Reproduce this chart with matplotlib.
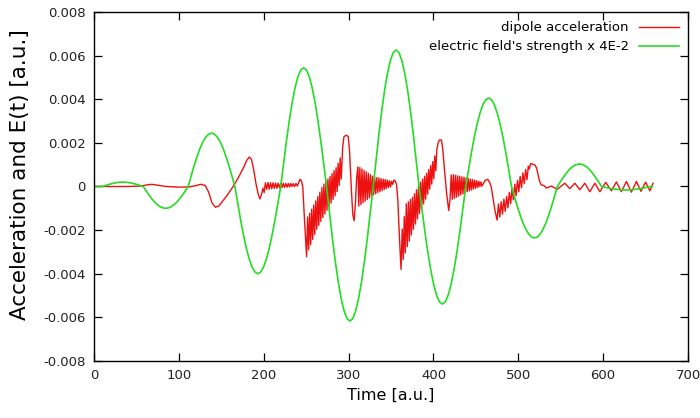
import numpy as np
import matplotlib
matplotlib.use("Agg")
import matplotlib.pyplot as plt

# values are in units of 1e-4 a.u.
SCALE = 1e-4

# electric field's strength x 4E-2, read off the picture lobe by lobe
# (zero crossings in field_edges, 16 samples per lobe)
field_edges = [10, 58, 111, 166, 220, 274, 329, 383, 438, 492, 546, 598, 656]
field_lobes = [
    [0, 0.39, 0.77, 1.11, 1.41, 1.66, 1.85, 1.96, 2.0, 1.96, 1.85, 1.66, 1.41, 1.11, 0.77, 0.39],
    [0, -1.95, -3.83, -5.56, -7.07, -8.31, -9.24, -9.81, -10, -9.81, -9.24, -8.31, -7.07, -5.56, -3.83, -1.95],
    [0, 4.8, 9.4, 13.6, 17.3, 20.4, 22.6, 24.0, 24.5, 24.0, 22.6, 20.4, 17.3, 13.6, 9.4, 4.8],
    [0, -7.8, -15.3, -22.2, -28.3, -33.2, -37.0, -39.2, -40, -39.2, -37.0, -33.2, -28.3, -22.2, -15.3, -7.8],
    [0, 10.6, 20.8, 30.2, 38.5, 45.2, 50.3, 53.4, 54.4, 53.4, 50.3, 45.2, 38.5, 30.2, 20.8, 10.6],
    [0, -12.0, -23.6, -34.3, -43.6, -51.3, -57.0, -60.5, -61.7, -60.5, -57.0, -51.3, -43.6, -34.3, -23.6, -12.0],
    [0, 12.2, 24.0, 34.8, 44.3, 52.0, 57.8, 61.4, 62.6, 61.4, 57.8, 52.0, 44.3, 34.8, 24.0, 12.2],
    [0, -10.5, -20.6, -30.0, -38.1, -44.8, -49.8, -52.9, -53.9, -52.9, -49.8, -44.8, -38.1, -30.0, -20.6, -10.5],
    [0, 7.9, 15.5, 22.6, 28.7, 33.7, 37.5, 39.8, 40.6, 39.8, 37.5, 33.7, 28.7, 22.6, 15.5, 7.9],
    [0, -4.6, -9.0, -13.1, -16.7, -19.6, -21.8, -23.2, -23.6, -23.2, -21.8, -19.6, -16.7, -13.1, -9.0, -4.6],
    [0, 2.0, 3.9, 5.7, 7.3, 8.6, 9.5, 10.1, 10.3, 10.1, 9.5, 8.6, 7.3, 5.7, 3.9, 2.0],
    [0, -0.3, -0.6, -0.9, -1.1, -1.3, -1.5, -1.6, -1.6, -1.6, -1.5, -1.3, -1.1, -0.9, -0.6, -0.3],
]
field_head = ([0], [0])
field_tail = ([656, 658], [0, 0])

# dipole acceleration, piece by piece
# smooth parts: explicit times
dip_a_t = [0, 20, 40, 55, 62, 68, 75, 85, 100, 112, 120, 126, 131, 135, 139,
           143, 147, 151, 157, 164, 170, 176, 180, 183, 185.5, 188, 191,
           193.5, 195.5, 197.5, 199, 200.5]
dip_a_v = [0, 0, 0, 0.2, 0.7, 1.0, 0.6, 0, -0.3, -0.2, 0.4, 1.0, 0.5, -2.5,
           -7.5, -9.5, -9, -7, -4, 0, 4, 8.5, 12, 13.5, 12.5, 8, 1, -3.5,
           -5.7, -3.5, -0.8, -2.8]
# ripples 202..241
dip_b_v = [1.7, -1.3, 1.8, -1.2, 1.7, -1.0, 1.7, -0.9, 1.6, -0.8, 1.6, -0.6,
           1.5, -0.5, 1.5, -0.4, 1.4, -0.3, 1.4, -0.2, 1.4, 0.0, 1.3, 0.0,
           1.4, 0.2, 1.5]
dip_c_t = [242.6, 244.5, 246, 248, 250.5]
dip_c_v = [3.3, 2.5, 0, -15, -32.2]
# dense band 251.7..291.3
dip_d_v = [-14, -29, -12.3, -26.7, -10.4, -24.3, -8.5, -21.9, -6.6, -19.6,
           -4.6, -17.8, -2.6, -16, -0.5, -14.2, 1.1, -12.6, 2.3, -10.9, 3.4,
           -9.2, 4.6, -7.6, 5.9, -6, 7.3, -4.3, 8.6, -2.4, 10.7, 0.5, 13.1,
           3.4]
dip_e_t = [293, 294.5, 297, 299.5, 301, 302, 303.5, 305, 306.5, 308, 309.5,
           311]
dip_e_v = [18, 22.8, 23.5, 23, 17, 9, -3, -13, -15.7, -8, 4, 9]
# decaying band 312..350.75
dip_f_v = [-9, 8.7, -8.25, 8.0, -7.5, 7.3, -6.75, 6.7, -6, 6.0, -5.25, 5.4,
           -4.5, 4.7, -3.8, 4.3, -3.3, 4.1, -2.8, 3.9, -2.35, 3.6, -1.9, 3.4,
           -1.4, 3.2, -0.9, 2.9, -0.5, 2.6, -0.2, 2.4]
dip_g_t = [352, 353.5, 355, 356.5, 358, 360, 361.8]
dip_g_v = [1.0, 3.0, 2.5, 1.0, -6, -24, -38]
# dense band 363.2..404
dip_h_v = [-19.5, -33.5, -13.8, -30.5, -8, -27.6, -7.0, -25, -6.0, -22.2,
           -5.0, -19.6, -3.4, -17.2, -1.5, -14.8, 0.4, -12.4, 2.0, -10.2, 3.4,
           -8.0, 4.7, -5.8, 6, -3.5, 7.8, -1.2, 9.6, 1.1, 11.4, 3.6, 14, 7.2,
           17]
dip_i_t = [405.5, 407, 409.5, 411, 413, 415.5, 418, 419.5, 421]
dip_i_v = [20, 21.3, 21.3, 17, 7.6, -3, -11, -6, 5.3]
# decaying band 422.25..457.25
dip_j_v = [-5.9, 5.4, -5.4, 5.1, -4.9, 4.9, -4.4, 4.7, -3.9, 4.4, -3.4, 4.2,
           -2.9, 3.95, -2.4, 3.7, -2.0, 3.4, -1.6, 3.2, -1.2, 2.9, -0.8, 2.6,
           -0.4, 2.4, 0, 2.1, 0.2]
dip_k_t = [459, 461, 464, 466, 468, 470, 472.5, 475]
dip_k_v = [1.5, 2.8, 3.3, 2, 0, -5, -11, -15.4]
# band 476.6..511.8
dip_l_v = [-8, -14, -7.0, -12.7, -5.8, -11.4, -4.6, -9.8, -2.7, -7.9, -0.8,
           -6.1, 1.0, -4.2, 2.8, -2.4, 4.6, -0.6, 6.2, 1.3, 7.8, 3.1, 9.3]
dip_m_t = [513, 514.5, 516.5, 519.5, 521.5, 523, 525, 527, 530, 533, 539,
           545.7]
dip_m_v = [8, 10.5, 10.3, 9.9, 8.5, 6, 2.5, 0.7, 0.5, -0.7, 0.2, -1.3]
dip_n_t = [554.8, 560.7, 566.6, 572.5, 578.4, 584.3, 590.2, 596.1, 603.0,
           609.7, 615.6, 621.5, 627.4, 633.3, 639.2, 644.5, 650.0, 655.0,
           658.8]
dip_n_v = [1.5, -1.0, 1.5, -1.5, 1.5, -2.4, 1.5, -2.4, 1.9, -2.0, 2.1, -2.4,
           2.3, -2.6, 2.3, -2.2, 2.0, -2.0, 1.5]

bands = [(202, 241, dip_b_v), (251.7, 291.3, dip_d_v), (312, 350.75, dip_f_v),
         (363.2, 404, dip_h_v), (422.25, 457.25, dip_j_v),
         (476.6, 511.8, dip_l_v)]
smooth = [(dip_a_t, dip_a_v), (dip_c_t, dip_c_v), (dip_e_t, dip_e_v),
          (dip_g_t, dip_g_v), (dip_i_t, dip_i_v), (dip_k_t, dip_k_v),
          (dip_m_t, dip_m_v), (dip_n_t, dip_n_v)]

pieces = [(np.array(t, float), np.array(v, float)) for t, v in smooth]
for t0, t1, v in bands:
    pieces.append((np.linspace(t0, t1, len(v)), np.array(v, float)))
pieces.sort(key=lambda p: p[0][0])
dip_t = np.concatenate([p[0] for p in pieces])
dip_v = np.concatenate([p[1] for p in pieces]) * SCALE

fld_t = [np.array(field_head[0], float)]
fld_v = [np.array(field_head[1], float)]
for i, lobe in enumerate(field_lobes):
    fld_t.append(np.linspace(field_edges[i], field_edges[i + 1], len(lobe) + 1)[:-1])
    fld_v.append(np.array(lobe, float))
fld_t.append(np.array(field_tail[0], float))
fld_v.append(np.array(field_tail[1], float))
fld_t = np.concatenate(fld_t)
fld_v = np.concatenate(fld_v) * SCALE

fig = plt.figure(figsize=(7.0, 4.18), dpi=100)
ax = fig.add_axes([0.1343, 0.1364, 0.8486, 0.8349])

ax.plot(dip_t, dip_v, color="#ee1111", lw=1.0, label="dipole acceleration")
ax.plot(fld_t, fld_v, color="#22dd22", lw=1.2,
        label="electric field's strength x 4E-2")

ax.set_xlim(0, 700)
ax.set_ylim(-0.008, 0.008)
ax.set_xticks(np.arange(0, 701, 100))
ax.set_yticks(np.arange(-0.008, 0.0081, 0.002))
ax.set_yticklabels(["-0.008", "-0.006", "-0.004", "-0.002", "0",
                    "0.002", "0.004", "0.006", "0.008"])
ax.tick_params(direction="in", length=5.5, width=0.9, top=True, right=True,
               labelsize=9.5, labelcolor="#222222", pad=6)
for s in ax.spines.values():
    s.set_linewidth(1.0)

ax.set_xlabel("Time [a.u.]", fontsize=11.5, labelpad=4)
ax.set_ylabel("Acceleration and E(t) [a.u.]", fontsize=15.5)
ax.yaxis.set_label_coords(-0.107, 0.535)

leg = ax.legend(loc="upper right", frameon=False, markerfirst=False,
                fontsize=9.5, handlelength=3.0, handletextpad=0.8,
                labelspacing=0.45, borderaxespad=0.3)
for col in leg._legend_box.get_children()[1].get_children():
    col.align = "right"

fig.savefig("out.png", dpi=100)
